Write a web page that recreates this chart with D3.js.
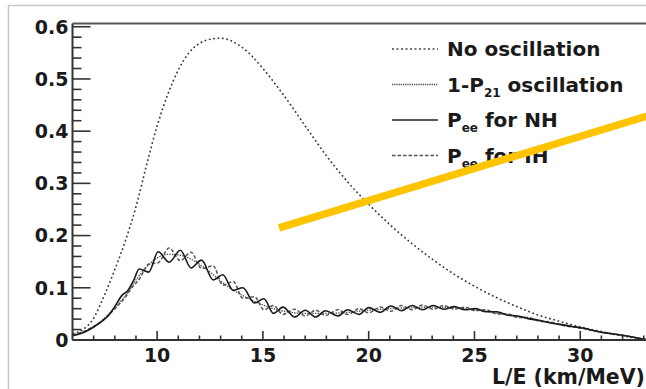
<!DOCTYPE html>
<html lang="en">
<head>
<meta charset="UTF-8">
<title>Reactor spectrum vs L/E</title>
<script src="https://d3js.org/d3.v7.min.js"></script>
<style>
  body, html { margin: 0; padding: 0; background: #fff; overflow: hidden; }
  svg { display: block; }
  text { font-family: "DejaVu Sans", sans-serif; font-weight: bold; fill: #1a1a1a; }
</style>
</head>
<body>
<svg></svg>
<script>
  const width = 646, height = 389;

  // x ticks / y ticks
  const xMajor = [10, 15, 20, 25, 30];
  const yMajor = [0, 0.1, 0.2, 0.3, 0.4, 0.5, 0.6];

  // No oscillation spectrum [L/E, value]
  const noOsc = [[6,0.012],[6.5,0.02],[7,0.042],[7.5,0.085],[8,0.135],[8.5,0.19],[9,0.255],[9.5,0.335],
    [10,0.41],[10.5,0.47],[11,0.517],[11.5,0.55],[12,0.568],[12.5,0.576],[13,0.578],[13.5,0.573],
    [14,0.561],[14.5,0.543],[15,0.52],[16,0.468],[17,0.41],[18,0.353],[19,0.303],[20,0.26],
    [21,0.221],[22,0.186],[23,0.155],[24,0.127],[25,0.103],[26,0.082],[27,0.064],[28,0.048],
    [29,0.036],[30,0.025],[31,0.016],[32,0.008],[33.2,0.0]];

  // 1-P21 (smooth)
  const p21 = [[6,0.009],[7,0.025],[8,0.062],[8.5,0.085],[9,0.115],[9.5,0.14],[10,0.157],[10.5,0.164],
    [11,0.163],[11.5,0.157],[12,0.145],[12.5,0.13],[13,0.113],[13.5,0.098],[14,0.086],[14.5,0.076],
    [15,0.067],[15.5,0.06],[16,0.055],[17,0.051],[18,0.051],[19,0.053],[20,0.057],[21,0.06],
    [22,0.062],[23,0.063],[24,0.062],[25,0.058],[26,0.052],[27,0.045],[28,0.037],[29,0.03],
    [30,0.023],[31,0.015],[32,0.009],[33.2,0.0]];

  // Pee normal hierarchy (peaks and troughs)
  const peeNH = [[6,0.008],[6.5,0.014],[7,0.025],[7.4,0.036],[7.7,0.047],[8.0,0.064],[8.35,0.086],
    [8.6,0.094],[8.9,0.115],[9.15,0.136],[9.6,0.13],[10.05,0.169],[10.57,0.149],[11.1,0.172],
    [11.6,0.138],[12.1,0.153],[12.65,0.115],[13.1,0.125],[13.6,0.095],[14.05,0.1],[14.6,0.071],
    [15.05,0.079],[15.5,0.051],[15.95,0.063],[16.5,0.044],[17,0.057],[17.5,0.044],[17.95,0.056],
    [18.55,0.046],[19,0.058],[19.55,0.049],[20,0.062],[20.55,0.053],[21.05,0.065],[21.55,0.056],
    [22.05,0.066],[22.55,0.058],[23.05,0.066],[23.55,0.059],[24.05,0.064],[24.55,0.058],
    [25.05,0.06],[25.55,0.054],[26.05,0.054],[26.55,0.048],[27.05,0.046],[27.55,0.041],
    [28.05,0.038],[28.55,0.033],[29.05,0.03],[29.6,0.026],[30.1,0.023],[31,0.015],[32,0.009],[33.2,0.0]];

  // Pee inverted hierarchy
  const peeIH = [[6,0.01],[6.5,0.016],[7,0.026],[7.5,0.04],[8,0.06],[8.5,0.082],[8.8,0.1],
    [9.15,0.116],[9.6,0.145],[10.05,0.148],[10.57,0.176],[11.1,0.152],[11.6,0.168],[12.1,0.137],
    [12.65,0.142],[13.1,0.105],[13.6,0.112],[14.05,0.08],[14.6,0.083],[15.05,0.058],[15.5,0.066],
    [15.95,0.049],[16.5,0.059],[17,0.046],[17.5,0.057],[17.95,0.047],[18.55,0.058],[19,0.049],
    [19.55,0.06],[20,0.052],[20.55,0.063],[21.05,0.055],[21.55,0.066],[22.05,0.058],[22.55,0.067],
    [23.05,0.059],[23.55,0.066],[24.05,0.059],[24.55,0.063],[25.05,0.056],[25.55,0.058],
    [26.05,0.05],[26.55,0.05],[27.05,0.043],[27.55,0.043],[28.05,0.036],[28.55,0.035],
    [29.05,0.029],[30,0.023],[31,0.015],[32,0.009],[33.2,0.0]];

  // yellow annotation stroke, in data units
  const marker = [[15.76, 0.2146], [33.4, 0.432]];

  const legendItems = [
    {main: "No oscillation", sub: null, rest: "", dash: "2,2.5", color: "#444", w: 1.3},
    {main: "1-P", sub: "21", rest: " oscillation", dash: "1.2,1", color: "#444", w: 1.3},
    {main: "P", sub: "ee", rest: " for NH", dash: null, color: "#222", w: 1.5},
    {main: "P", sub: "ee", rest: " for IH", dash: "3.5,2", color: "#555", w: 1.3}
  ];

  const svg = d3.select("svg").attr("width", width).attr("height", height);

  // outer light frame
  svg.append("path").attr("d", `M8.5,${height} V5.5 H${width}`)
    .attr("fill", "none").attr("stroke", "#c8c8c8").attr("stroke-width", 1.5);

  const x = d3.scaleLinear().domain([6, 33.25]).range([72.5, 649]);
  const y = d3.scaleLinear().domain([0, 0.606]).range([340, 23.6]);

  const line = d3.line().x(d => x(d[0])).y(d => y(d[1])).curve(d3.curveMonotoneX);

  const curves = [
    {data: noOsc, dash: "1.8,2.6", color: "#3a3a3a", w: 1.6},
    {data: p21, dash: "1.4,1.2", color: "#555", w: 1.4},
    {data: peeIH, dash: "3.5,2", color: "#555", w: 1.5},
    {data: peeNH, dash: null, color: "#1a1a1a", w: 1.6}
  ];
  curves.forEach(c => {
    svg.append("path").datum(c.data).attr("d", line)
      .attr("fill", "none").attr("stroke", c.color).attr("stroke-width", c.w)
      .attr("stroke-dasharray", c.dash);
  });

  // frame top
  svg.append("line").attr("x1", x(6)).attr("x2", width).attr("y1", y(0.606)).attr("y2", y(0.606))
    .attr("stroke", "#555").attr("stroke-width", 2);

  // y axis (ticks inward)
  const yAx = svg.append("g").attr("transform", `translate(${x(6)},0)`);
  yAx.append("line").attr("y1", y(0)).attr("y2", y(0.606)).attr("stroke", "#333").attr("stroke-width", 2);
  yAx.selectAll(".ymin").data(d3.range(0, 31).map(i => i * 0.02)).enter().append("line")
    .attr("x1", 0).attr("x2", d => (Math.round(d * 100) % 10 === 0) ? 18 : 9)
    .attr("y1", d => y(d)).attr("y2", d => y(d)).attr("stroke", "#333").attr("stroke-width", 1.6);
  yAx.selectAll(".ylab").data(yMajor).enter().append("text")
    .attr("x", -4).attr("y", d => y(d)).attr("dy", "0.36em").attr("text-anchor", "end")
    .attr("font-size", 19).text(d => d === 0 ? "0" : d.toFixed(1));

  // x axis (ticks upward)
  const xAx = svg.append("g").attr("transform", `translate(0,${y(0)})`);
  xAx.append("line").attr("x1", x(6)).attr("x2", width).attr("stroke", "#333").attr("stroke-width", 2);
  xAx.selectAll(".xmin").data(d3.range(7, 34)).enter().append("line")
    .attr("x1", d => x(d)).attr("x2", d => x(d))
    .attr("y1", 0).attr("y2", d => d % 5 === 0 ? -9 : -4.5).attr("stroke", "#333").attr("stroke-width", 1.6);
  xAx.selectAll(".xlab").data(xMajor).enter().append("text")
    .attr("x", d => x(d)).attr("y", 22).attr("text-anchor", "middle")
    .attr("font-size", 19).text(d => d);

  svg.append("text").attr("x", 645).attr("y", 384).attr("text-anchor", "end")
    .attr("font-size", 20.5).text("L/E (km/MeV)");

  // legend
  const lg = svg.append("g");
  legendItems.forEach((d, i) => {
    const cy = 49 + i * 35.5;
    lg.append("line").attr("x1", 392).attr("x2", 438).attr("y1", cy).attr("y2", cy)
      .attr("stroke", d.color).attr("stroke-width", d.w).attr("stroke-dasharray", d.dash);
    const t = lg.append("text").attr("x", 447).attr("y", cy + 7).attr("font-size", 20);
    t.append("tspan").text(d.main);
    if (d.sub) t.append("tspan").attr("font-size", 12).attr("dy", 5).text(d.sub);
    if (d.rest) t.append("tspan").attr("dy", d.sub ? -5 : 0).text(d.rest);
  });

  // yellow annotation
  svg.append("line")
    .attr("x1", x(marker[0][0])).attr("y1", y(marker[0][1]))
    .attr("x2", x(marker[1][0])).attr("y2", y(marker[1][1]))
    .attr("stroke", "#ffc400").attr("stroke-width", 7.5);
</script>
</body>
</html>
